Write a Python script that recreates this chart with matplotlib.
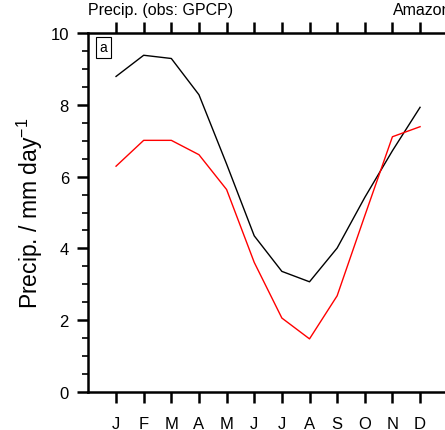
import numpy as np
import matplotlib
matplotlib.use("Agg")
import matplotlib.pyplot as plt
from matplotlib.ticker import MultipleLocator

plt.rcParams['font.family'] = ['Liberation Sans', 'DejaVu Sans']
plt.rcParams['mathtext.fontset'] = 'custom'
plt.rcParams['mathtext.rm'] = 'Liberation Sans'
plt.rcParams['mathtext.default'] = 'rm'

months = ['J', 'F', 'M', 'A', 'M', 'J', 'J', 'A', 'S', 'O', 'N', 'D']
model_precip = [8.79, 9.38, 9.29, 8.28, 6.35, 4.35, 3.36, 3.07, 4.01, 5.42, 6.72, 7.93]
obs_precip = [6.29, 7.01, 7.01, 6.61, 5.64, 3.61, 2.06, 1.48, 2.68, 4.91, 7.11, 7.39]

x = np.arange(1, 13)

fig = plt.figure(figsize=(4.45, 4.31), dpi=100)
ax = fig.add_axes([88.4 / 445, 38 / 431, 359.3 / 445, 359 / 431])

ax.plot(x, model_precip, color='black', lw=1.0)
ax.plot(x, obs_precip, color='red', lw=1.0)

ax.set_xlim(0, 13)
ax.set_ylim(0, 10)
ax.set_xticks(x)
ax.set_xticklabels(months)
ax.yaxis.set_major_locator(MultipleLocator(2))
ax.yaxis.set_minor_locator(MultipleLocator(0.5))

for s in ax.spines.values():
    s.set_linewidth(1.8)
ax.tick_params(axis='both', which='major', direction='out', length=8, width=1.8,
               labelsize=12, pad=6)
ax.tick_params(axis='x', pad=9)
ax.tick_params(axis='y', which='minor', direction='out', length=4.5, width=1.2)
ax.tick_params(axis='x', top=True, labeltop=False)

fig.text(30 / 445, 0.505, 'Precip. / mm day$^{-1}$', fontsize=16.5, rotation=90,
         ha='center', va='center')
ax.text(0.0, 1.045, 'Precip. (obs: GPCP)', transform=ax.transAxes, fontsize=11.5,
        ha='left', va='bottom')
ax.text(11.02, 10.45, 'Amazon', fontsize=11.5, ha='left', va='bottom', clip_on=False)
ax.text(0.55, 9.6, 'a', fontsize=10, ha='center', va='center',
        bbox=dict(boxstyle='square,pad=0.25', fc='white', ec='black', lw=0.8))

fig.savefig('out.png', dpi=100)
